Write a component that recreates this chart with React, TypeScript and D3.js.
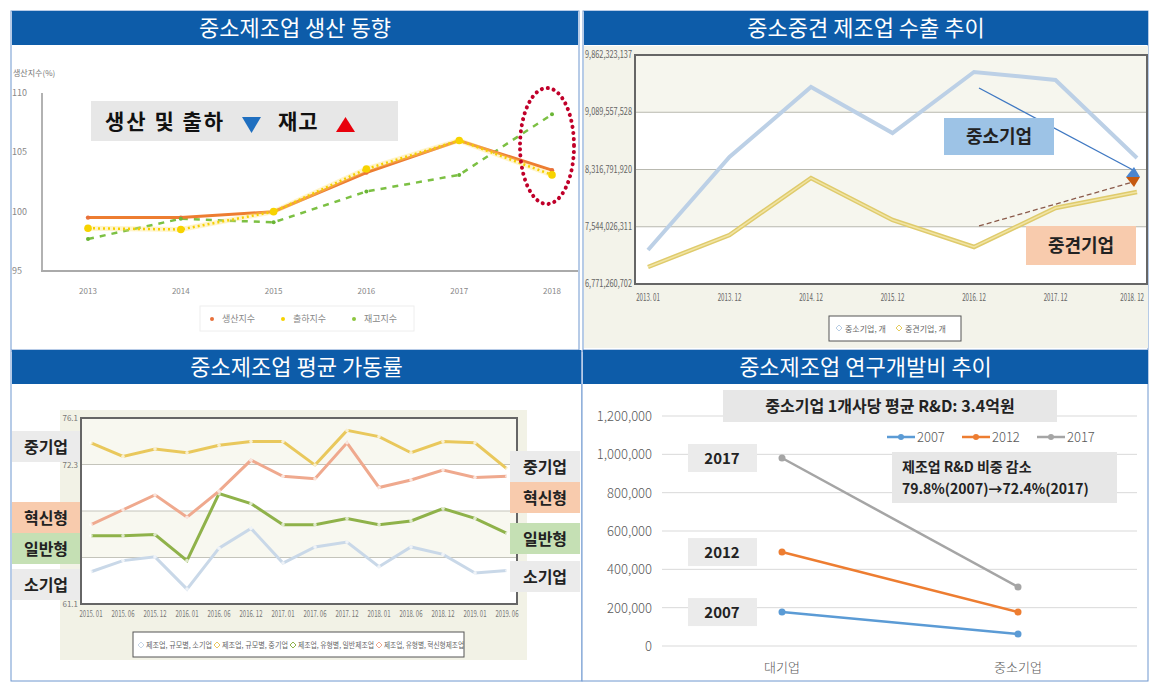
import * as d3 from 'd3';

// ---- panel 1: 중소제조업 생산 동향
const P1_YEARS = ['2013', '2014', '2015', '2016', '2017', '2018'];
const P1_PROD = [99.5, 99.5, 100.0, 103.3, 106.0, 103.5];
const P1_SHIP = [98.6, 98.5, 100.0, 103.6, 106.0, 103.1];
const P1_INV = [97.7, 99.4, 99.1, 101.7, 103.1, 108.2];
const P1_TICKS = [95, 100, 105, 110];

// ---- panel 2: 중소중견 제조업 수출 추이
const P2_DATES = ['2013. 01', '2013. 12', '2014. 12', '2015. 12', '2016. 12', '2017. 12', '2018. 12'];
const P2_SME = [7230e6, 8486e6, 9430e6, 8809e6, 9633e6, 9525e6, 8472e6];
const P2_MID = [7001e6, 7433e6, 8202e6, 7635e6, 7271e6, 7797e6, 8013e6];
const P2_TICKS = [6771260702, 7544026311, 8316791920, 9089557528, 9862323137];

// ---- panel 3: 중소제조업 평균 가동률
const P3_DATES = ['2015. 01', '2015. 06', '2015. 12', '2016. 01', '2016. 06', '2016. 12', '2017. 01',
  '2017. 06', '2017. 12', '2018. 01', '2018. 06', '2018. 12', '2019. 01', '2019. 06'];
const P3_MED = [74.1, 73.0, 73.6, 73.3, 73.9, 74.2, 74.2, 72.3, 75.1, 74.6, 73.3, 74.2, 74.1, 72.0];
const P3_INNO = [67.5, 68.7, 69.9, 68.1, 70.2, 72.7, 71.4, 71.2, 74.1, 70.5, 71.1, 71.9, 71.3, 71.4];
const P3_GEN = [66.6, 66.6, 66.7, 64.6, 70.0, 69.2, 67.5, 67.5, 68.0, 67.5, 67.8, 68.8, 68.0, 66.8];
const P3_SMALL = [63.7, 64.6, 64.9, 62.3, 65.6, 67.2, 64.4, 65.7, 66.1, 64.1, 65.7, 65.1, 63.6, 63.8];
const P3_TICKS = [61.1, 64.85, 68.6, 72.35, 76.1];
const P3_TICK_LABELS = [61.1, 72.35, 76.1]; // the others sit behind the label boxes

// ---- panel 4: 중소제조업 연구개발비 추이
const P4_CATS = ['대기업', '중소기업'];
const P4_2007 = [177000, 62600];
const P4_2012 = [490000, 177000];
const P4_2017 = [981000, 308000];
const P4_TICKS = [0, 200000, 400000, 600000, 800000, 1000000, 1200000];

const KR = '"Noto Sans CJK KR", "Noto Sans", sans-serif';
const BLUE_BAR = '#0d5ca9';
const BORDER = '#6f97cf';

function TitleBar({ x, y, w, text }: { x: number; y: number; w: number; text: string }) {
  return (
    <g>
      <rect x={x} y={y} width={w} height={34} fill={BLUE_BAR} />
      <text x={x + w / 2} y={y + 25} textAnchor="middle" fill="#fff" fontSize={22} fontFamily={KR}>{text}</text>
    </g>
  );
}

function Panel1() {
  const x = d3.scalePoint<string>().domain(P1_YEARS).range([88, 552]);
  const y = d3.scaleLinear().domain([95, 110]).range([271, 93]);
  const line = (vals: number[]) =>
    d3.line<number>().x((_, i) => x(P1_YEARS[i])!).y(d => y(d))(vals) as string;
  return (
    <g>
      <text x={13} y={76} fontSize={8} fill="#777" fontFamily={KR}>생산지수(%)</text>
      {P1_TICKS.map(t => (
        <text key={t} x={12} y={y(t) + 3} fontSize={9} fill="#888" fontFamily={KR}>{t}</text>
      ))}
      <line x1={42} y1={93} x2={42} y2={271} stroke="#999" strokeWidth={1.5} />
      <line x1={41} y1={271} x2={578} y2={271} stroke="#aaa" strokeWidth={2} />
      {P1_YEARS.map(t => (
        <text key={t} x={x(t)} y={294} textAnchor="middle" fontSize={8} fill="#888" fontFamily={KR}>{t}</text>
      ))}
      <path d={line(P1_INV)} fill="none" stroke="#7cc043" strokeWidth={2.5} strokeDasharray="6,6" />
      <path d={line(P1_PROD)} fill="none" stroke="#ed7d31" strokeWidth={3} />
      <path d={line(P1_SHIP)} fill="none" stroke="#ffe066" strokeWidth={5} opacity={0.35} />
      <path d={line(P1_SHIP)} fill="none" stroke="#f5cf00" strokeWidth={2.5} strokeDasharray="2,3" />
      {P1_PROD.map((v, i) => <circle key={'p' + i} cx={x(P1_YEARS[i])} cy={y(v)} r={2.2} fill="#e8703a" />)}
      {P1_SHIP.map((v, i) => <circle key={'s' + i} cx={x(P1_YEARS[i])} cy={y(v)} r={3.8} fill="#f7d300" />)}
      {P1_INV.map((v, i) => <circle key={'n' + i} cx={x(P1_YEARS[i])} cy={y(v)} r={2} fill="#6ab536" />)}
      {/* annotation box */}
      <rect x={91} y={101} width={307} height={40} fill="#e7e7e7" />
      <text x={105} y={129} fontSize={21} fontWeight="bold" fill="#111" fontFamily={KR} letterSpacing={2}>생산 및 출하</text>
      <path d="M242,117 L261,117 L251.5,133 Z" fill="#1f6fc0" />
      <text x={278} y={129} fontSize={21} fontWeight="bold" fill="#111" fontFamily={KR} letterSpacing={1}>재고</text>
      <path d="M336,132 L355,132 L345.5,117 Z" fill="#e8000b" />
      <ellipse cx={547} cy={146} rx={27} ry={58} fill="none" stroke="#c0002a" strokeWidth={4}
        strokeDasharray="0.1,6" strokeLinecap="round" />
      {/* legend */}
      <rect x={200} y={306} width={214} height={25} fill="#fff" stroke="#eee" />
      {[['생산지수', '#e8703a', 212], ['출하지수', '#f7d300', 283], ['재고지수', '#8dc63f', 354]].map(([t, c, lx]) => (
        <g key={t as string}>
          <circle cx={lx as number} cy={319} r={2} fill={c as string} />
          <text x={(lx as number) + 10} y={322} fontSize={9} fill="#888" fontFamily={KR}>{t}</text>
        </g>
      ))}
    </g>
  );
}

function Panel2() {
  const x = d3.scalePoint<string>().domain(P2_DATES).range([648, 1137]);
  const y = d3.scaleLinear().domain([P2_TICKS[0], P2_TICKS[4]]).range([284, 55]);
  const line = (vals: number[]) =>
    d3.line<number>().x((_, i) => x(P2_DATES[i])!).y(d => y(d))(vals) as string;
  const fmt = d3.format(',');
  const xs = x(P2_DATES[4])! + 5;
  const xe = x(P2_DATES[6])! - 4;
  const last = P2_DATES.length - 1;
  return (
    <g>
      <rect x={584} y={46} width={564} height={302} fill="#f3f3ea" />
      {P2_TICKS.slice(0, 4).map((t, i) => (
        <rect key={t} x={635} y={y(P2_TICKS[i + 1])} width={513} height={y(t) - y(P2_TICKS[i + 1])}
          fill={i % 2 === 0 ? '#fff' : '#f6f6ee'} />
      ))}
      {P2_TICKS.map(t => (
        <g key={t}>
          <line x1={635} x2={1148} y1={y(t)} y2={y(t)} stroke="#b9b9b0" strokeWidth={1} />
          <text x={632} y={y(t) + 3} textAnchor="end" fontSize={10} fill="#666" fontFamily={KR}
            textLength={47} lengthAdjust="spacingAndGlyphs">{fmt(t)}</text>
        </g>
      ))}
      <rect x={635} y={55} width={512} height={229} fill="none" stroke="#666" strokeWidth={2} />
      {P2_DATES.map((t, i) => (
        <text key={t} transform={`translate(${i === last ? x(t)! + 7 : x(t)},301) scale(0.62,1)`}
          textAnchor={i === last ? 'end' : 'middle'} fontSize={10} fill="#666" fontFamily={KR}>{t}</text>
      ))}
      <path d={line(P2_SME)} fill="none" stroke="#bcd0e6" strokeWidth={4} />
      <path d={line(P2_MID)} fill="none" stroke="#dfcb6c" strokeWidth={4.5} />
      <path d={line(P2_MID)} fill="none" stroke="#f1e4a4" strokeWidth={1.5} />
      {/* annotation arrows */}
      <line x1={xs} y1={y(P2_SME[4]) + 16} x2={xe} y2={y(P2_SME[6]) + 12} stroke="#3f78c2" strokeWidth={1.3} />
      <path d={`M${xe - 7},${y(P2_SME[6]) + 19} L${xe + 7},${y(P2_SME[6]) + 19} L${xe + 1},${y(P2_SME[6]) + 9} Z`} fill="#4a86d0" />
      <line x1={xs} y1={y(P2_MID[4]) - 21} x2={xe} y2={y(P2_MID[6]) - 10} stroke="#8a5a4a" strokeWidth={1.3} strokeDasharray="5,3" />
      <path d={`M${xe - 7},${y(P2_MID[6]) - 15} L${xe + 7},${y(P2_MID[6]) - 15} L${xe + 1},${y(P2_MID[6]) - 5} Z`} fill="#c55a11" />
      <rect x={944} y={118} width={110} height={37} fill="#9dc3e6" />
      <text x={999} y={143} textAnchor="middle" fontSize={18} fontWeight="bold" fill="#222" fontFamily={KR}>중소기업</text>
      <rect x={1026} y={226} width={110} height={39} fill="#f8cbad" />
      <text x={1081} y={252} textAnchor="middle" fontSize={18} fontWeight="bold" fill="#222" fontFamily={KR}>중견기업</text>
      {/* legend */}
      <rect x={829} y={316} width={132} height={25} fill="#fff" stroke="#555" strokeWidth={1} />
      <path d="M836,328 l3,-3 l3,3 l-3,3 Z" fill="none" stroke="#b8cde4" />
      <text x={845} y={332} fontSize={8} fill="#666" fontFamily={KR}>중소기업, 개</text>
      <path d="M896,328 l3,-3 l3,3 l-3,3 Z" fill="none" stroke="#e6cc5c" />
      <text x={905} y={332} fontSize={8} fill="#666" fontFamily={KR}>중견기업, 개</text>
    </g>
  );
}

function Panel3() {
  const x = d3.scalePoint<string>().domain(P3_DATES).range([91, 507]);
  const y = d3.scaleLinear().domain([P3_TICKS[0], P3_TICKS[4]]).range([604, 418]);
  const line = (vals: number[]) =>
    d3.line<number>().x((_, i) => x(P3_DATES[i])!).y(d => y(d))(vals) as string;
  const series: [number[], string][] = [
    [P3_SMALL, '#c9d8e8'], [P3_GEN, '#8fb24a'], [P3_INNO, '#efa98e'], [P3_MED, '#e9c85c'],
  ];
  const boxes = (bx: number, w: number, items: [string, string, number][]) =>
    items.map(([t, c, by]) => (
      <g key={bx + t}>
        <rect x={bx} y={by} width={w} height={31} fill={c} />
        <text x={bx + w / 2} y={by + 22} textAnchor="middle" fontSize={16} fontWeight="bold" fill="#222" fontFamily={KR}>{t}</text>
      </g>
    ));
  const legend: [string, string, number, number][] = [
    ['제조업, 규모별, 소기업', '#c9d8e8', 138, 66], ['제조업, 규모별, 중기업', '#e9c85c', 214, 66],
    ['제조업, 유형별, 일반제조업', '#8fb24a', 290, 76], ['제조업, 유형별, 혁신형제조업', '#efa98e', 376, 80],
  ];
  return (
    <g>
      <rect x={60} y={410} width={467} height={250} fill="#f2f2e6" />
      {P3_TICKS.slice(0, 4).map((t, i) => (
        <rect key={t} x={81} y={y(P3_TICKS[i + 1])} width={436} height={y(t) - y(P3_TICKS[i + 1])}
          fill={i % 2 === 0 ? '#fff' : '#f8f8f0'} />
      ))}
      {P3_TICKS.map(t => (
        <line key={t} x1={81} x2={517} y1={y(t)} y2={y(t)} stroke="#c4c4bb" />
      ))}
      {P3_TICK_LABELS.map(t => (
        <text key={t} x={78} y={y(t) + 3} textAnchor="end" fontSize={8} fill="#777" fontFamily={KR}>{t.toFixed(1)}</text>
      ))}
      <rect x={81} y={418} width={436} height={186} fill="none" stroke="#666" strokeWidth={2} />
      {P3_DATES.map(t => (
        <text key={t} x={x(t)} y={617} textAnchor="middle" fontSize={9} fill="#777" fontFamily={KR}
          textLength={23} lengthAdjust="spacingAndGlyphs">{t}</text>
      ))}
      {series.map(([vals, c], k) => (
        <g key={k}>
          <path d={line(vals)} fill="none" stroke={c} strokeWidth={3} />
          {vals.map((v, i) => <circle key={i} cx={x(P3_DATES[i])} cy={y(v)} r={1.8} fill="#fff" opacity={0.7} />)}
        </g>
      ))}
      {/* legend */}
      <rect x={133} y={632} width={331} height={25} fill="#fff" stroke="#555" />
      {legend.map(([t, c, lx, tl]) => (
        <g key={t}>
          <path d={`M${lx},645 l3,-3 l3,3 l-3,3 Z`} fill="none" stroke={c} />
          <text x={lx + 8} y={648} fontSize={7.5} fill="#666" fontFamily={KR}
            textLength={tl} lengthAdjust="spacingAndGlyphs">{t}</text>
        </g>
      ))}
      {boxes(12, 68, [['중기업', '#ebebeb', 431], ['혁신형', '#f8cbad', 502], ['일반형', '#c5e0b4', 533], ['소기업', '#ebebeb', 569]])}
      {boxes(510, 70, [['중기업', '#ebebeb', 451], ['혁신형', '#f8cbad', 482], ['일반형', '#c5e0b4', 523], ['소기업', '#ebebeb', 561]])}
    </g>
  );
}

function Panel4() {
  const x = d3.scalePoint<string>().domain(P4_CATS).range([782, 1018]);
  const y = d3.scaleLinear().domain([0, 1200000]).range([646, 416]);
  const fmt = d3.format(',');
  const series: [number[], string, string][] = [
    [P4_2007, '#5b9bd5', '2007'], [P4_2012, '#ed7d31', '2012'], [P4_2017, '#a5a5a5', '2017'],
  ];
  return (
    <g>
      {P4_TICKS.map(t => (
        <g key={t}>
          <line x1={662} x2={1137} y1={y(t)} y2={y(t)} stroke="#d9d9d9" />
          <text x={652} y={y(t) + 5} textAnchor="end" fontSize={13} fill="#595959" fontFamily={KR} fontWeight={300}>{fmt(t)}</text>
        </g>
      ))}
      {P4_CATS.map(c => (
        <text key={c} x={x(c)} y={672} textAnchor="middle" fontSize={13} fill="#595959" fontFamily={KR} fontWeight={300}>{c}</text>
      ))}
      {series.map(([vals, c, name]) => (
        <g key={name}>
          <line x1={x(P4_CATS[0])} y1={y(vals[0])} x2={x(P4_CATS[1])} y2={y(vals[1])} stroke={c} strokeWidth={2.5} />
          {vals.map((v, i) => <circle key={i} cx={x(P4_CATS[i])} cy={y(v)} r={3.5} fill={c} />)}
        </g>
      ))}
      {/* series labels */}
      {series.map(([vals, , name]) => (
        <g key={'l' + name}>
          <rect x={688} y={y(vals[0]) - 14} width={69} height={28} fill="#ebebeb" />
          <text x={722} y={y(vals[0]) + 6} textAnchor="middle" fontSize={15} fontWeight="bold" fill="#222" fontFamily={KR}>{name}</text>
        </g>
      ))}
      {/* legend */}
      {series.map(([, c, name], i) => (
        <g key={'g' + name}>
          <line x1={887 + i * 75} x2={915 + i * 75} y1={437} y2={437} stroke={c} strokeWidth={2.5} />
          <circle cx={901 + i * 75} cy={437} r={3} fill={c} />
          <text x={917 + i * 75} y={442} fontSize={13} fill="#595959" fontFamily={KR} fontWeight={300}>{name}</text>
        </g>
      ))}
      <rect x={723} y={390} width={334} height={32} fill="#e7e7e7" />
      <text x={890} y={412} textAnchor="middle" fontSize={16} fontWeight="bold" fill="#222" fontFamily={KR}>중소기업 1개사당 평균 R&amp;D: 3.4억원</text>
      <rect x={892} y={452} width={225} height={51} fill="#e7e7e7" />
      <text x={902} y={472} fontSize={14} fontWeight="bold" fill="#222" fontFamily={KR}>제조업 R&amp;D 비중 감소</text>
      <text x={902} y={494} fontSize={14} fontWeight="bold" fill="#222" fontFamily={KR}>79.8%(2007)→72.4%(2017)</text>
    </g>
  );
}

export default function App() {
  return (
    <svg width={1153} height={684} style={{ position: 'absolute', left: 0, top: 0, background: '#fff' }}>
      <rect x={0} y={0} width={1153} height={684} fill="#fff" />
      {/* panel frames */}
      <rect x={11} y={11} width={568} height={339} fill="#fff" stroke={BORDER} />
      <rect x={583} y={11} width={565} height={339} fill="#fff" stroke={BORDER} />
      <rect x={11} y={351} width={571} height={330} fill="#fff" stroke={BORDER} />
      <rect x={582} y={351} width={566} height={330} fill="#fff" stroke={BORDER} />
      <Panel1 />
      <Panel2 />
      <Panel3 />
      <Panel4 />
      <TitleBar x={12} y={11} w={566} text="중소제조업 생산 동향" />
      <TitleBar x={584} y={11} w={564} text="중소중견 제조업 수출 추이" />
      <TitleBar x={12} y={350} w={569} text="중소제조업 평균 가동률" />
      <TitleBar x={583} y={350} w={565} text="중소제조업 연구개발비 추이" />
    </svg>
  );
}
